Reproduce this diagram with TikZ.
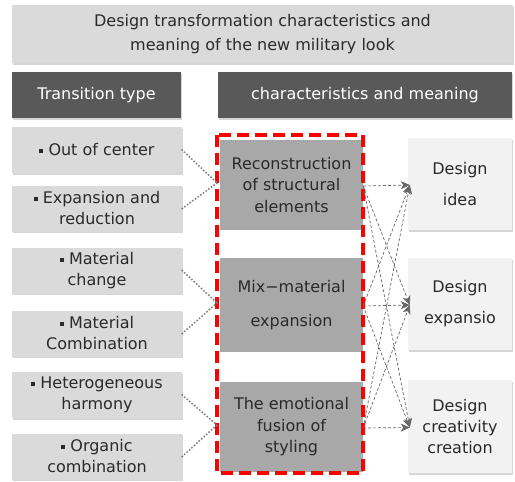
\documentclass[tikz,border=0pt]{standalone}
\usepackage{fontspec}
\setmainfont{DejaVu Sans}
\usetikzlibrary{shadows,arrows.meta}
\definecolor{txt}{HTML}{2A2A2A}
\definecolor{hdr}{HTML}{595959}
\definecolor{lbox}{HTML}{DADADA}
\definecolor{mbox}{HTML}{A8A8A8}
\definecolor{rbox}{HTML}{F2F2F2}
\newcommand{\sqb}{\raisebox{2.5pt}{\rule{4pt}{4pt}}\ }
\tikzset{
  shad/.style={drop shadow={shadow xshift=1.2pt,shadow yshift=-1.8pt,fill=black!40,opacity=.4}},
  titlebox/.style={shad,fill=lbox,text=txt,align=center,inner sep=0pt,font=\fontsize{16}{24}\selectfont},
  hdrbox/.style={shad,fill=hdr,text=white,align=center,inner sep=0pt,minimum height=46pt,font=\fontsize{16}{18}\selectfont},
  leftbox/.style={shad,fill=lbox,text=txt,align=center,inner sep=0pt,minimum width=170pt,minimum height=46pt,font=\fontsize{16}{21}\selectfont},
  midbox/.style={fill=mbox,text=txt,align=center,inner sep=0pt,minimum width=143pt,minimum height=90pt,font=\fontsize{16}{21.5}\selectfont},
  rightbox/.style={shad,fill=rbox,text=txt,align=center,inner sep=0pt,minimum width=104pt,minimum height=92pt,font=\fontsize{16}{21}\selectfont},
  dotline/.style={draw=black!50,line width=2.2pt,dash pattern=on 0pt off 3.3pt,line cap=round},
  arr/.style={draw=black!60,densely dashed,line width=0.7pt,-{Stealth[length=9pt,width=8pt,inset=2.5pt]}},
  redbox/.style={draw=red,line width=4pt,dash pattern=on 12pt off 6pt},
}
\begin{document}
\begin{tikzpicture}[x=1pt,y=-1pt]
\useasboundingbox (0,0) rectangle (515,482);
\node[titlebox,minimum width=501pt,minimum height=58pt] (title) at (262.5,34) {Design transformation characteristics and\\meaning of the new military look};
\node[hdrbox,minimum width=169pt] (h1) at (96.5,95) {Transition type};
\node[hdrbox,minimum width=294pt] (h2) at (365,95) {characteristics and meaning};

\node[leftbox] (l1) at (97,150) {\sqb Out of center};
\node[leftbox] (l2) at (97,208.5) {\sqb Expansion and\\reduction};
\node[leftbox] (l3) at (97,270.5) {\sqb Material\\change};
\node[leftbox] (l4) at (97,333.5) {\sqb Material\\Combination};
\node[leftbox] (l5) at (97,395) {\sqb Heterogeneous\\harmony};
\node[leftbox] (l6) at (97,456.5) {\sqb Organic\\combination};

\node[midbox] (m1) at (291.5,185) {Reconstruction\\of structural\\elements};
\node[midbox,minimum height=94pt] (m2) at (291.5,305) {Mix−material\\[12pt]expansion};
\node[midbox] (m3) at (291.5,427) {The emotional\\fusion of\\styling};

\node[rightbox] (r1) at (460,184) {Design\\[10pt]idea};
\node[rightbox] (r2) at (460,304) {Design\\[10pt]expansio};
\node[rightbox,minimum height=93pt] (r3) at (460,426.5) {Design\\creativity\\creation};

\coordinate (red1) at (217,135);
\coordinate (red2) at (363,473);
\draw[redbox] (red1) rectangle (red2);

\coordinate (c1) at (217,183);
\coordinate (c2) at (217,303);
\coordinate (c3) at (217,425);
\draw[dotline] (l1.east) -- (c1);
\draw[dotline] (l2.east) -- (c1);
\draw[dotline] (l3.east) -- (c2);
\draw[dotline] (l4.east) -- (c2);
\draw[dotline] (l5.east) -- (c3);
\draw[dotline] (l6.east) -- (c3);

\foreach \a in {1,2,3}{
  \foreach \b in {1,2,3}{
    \draw[arr] ([yshift=-1pt]m\a.east) -- ([xshift=2pt,yshift=-1pt]r\b.west);
  }
}
\end{tikzpicture}
\end{document}
